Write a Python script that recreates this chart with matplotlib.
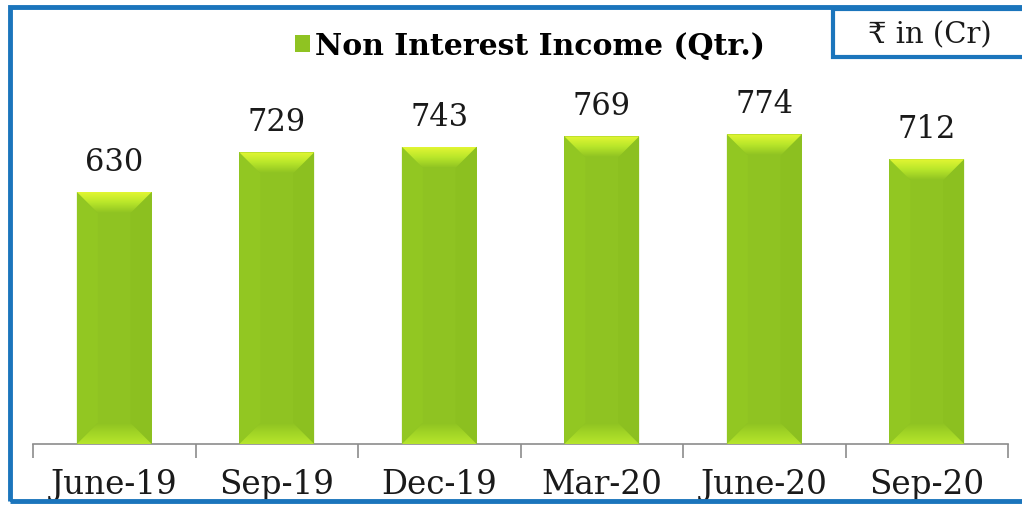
import matplotlib
matplotlib.use("Agg")
import matplotlib.pyplot as plt
from matplotlib.patches import Rectangle, Polygon
from matplotlib.colors import LinearSegmentedColormap
import numpy as np

categories = ["June-19", "Sep-19", "Dec-19", "Mar-20", "June-20", "Sep-20"]
values = [630, 729, 743, 769, 774, 712]
legend_label = "Non Interest Income (Qtr.)"
unit_label = "\u20b9 in (Cr)"

W, H = 1022, 510
fig = plt.figure(figsize=(W / 100, H / 100), dpi=100)
fig.patch.set_facecolor("white")

ax = fig.add_axes([33 / W, 1 - 445 / H, (1008 - 33) / W, (445 - 45) / H])
XLIM = (-0.5, len(categories) - 0.5)
YLIM = (0, 1000)
ax.set_xlim(*XLIM)
ax.set_ylim(*YLIM)

x = np.arange(len(categories))
main = "#8fc322"
bars = ax.bar(x, values, width=0.46, color=main, edgecolor="none", zorder=2)

top_cmap = LinearSegmentedColormap.from_list("top", [main, "#b8e62a", "#e2f633"])
bot_cmap = LinearSegmentedColormap.from_list("bot", ["#b6e52c", "#a3d626", main])
grad = np.linspace(0, 1, 64).reshape(-1, 1)

px_per_x = 975 / 6.0
px_per_y = 400 / 1000.0
bpx = 21
dx = bpx / px_per_x
dy = bpx / px_per_y

for b in bars:
    x0, y0 = b.get_x(), b.get_y()
    w, h = b.get_width(), b.get_height()
    ax.add_patch(Polygon([(x0, y0), (x0 + dx, y0 + dy), (x0 + dx, y0 + h - dy), (x0, y0 + h)],
                         closed=True, facecolor="#92c722", edgecolor="none", zorder=3))
    ax.add_patch(Polygon([(x0 + w, y0), (x0 + w - dx, y0 + dy), (x0 + w - dx, y0 + h - dy), (x0 + w, y0 + h)],
                         closed=True, facecolor="#8cc020", edgecolor="none", zorder=3))
    top = Polygon([(x0, y0 + h), (x0 + dx, y0 + h - dy), (x0 + w - dx, y0 + h - dy), (x0 + w, y0 + h)],
                  closed=True, facecolor="none", edgecolor="none", zorder=3)
    ax.add_patch(top)
    im = ax.imshow(grad, cmap=top_cmap, extent=(x0, x0 + w, y0 + h - dy, y0 + h), origin="lower",
                   aspect="auto", zorder=3, interpolation="bilinear")
    im.set_clip_path(top)
    bot = Polygon([(x0, y0), (x0 + dx, y0 + dy), (x0 + w - dx, y0 + dy), (x0 + w, y0)],
                  closed=True, facecolor="none", edgecolor="none", zorder=3)
    ax.add_patch(bot)
    im2 = ax.imshow(grad, cmap=bot_cmap, extent=(x0, x0 + w, y0, y0 + dy), origin="lower",
                    aspect="auto", zorder=3, interpolation="bilinear")
    im2.set_clip_path(bot)
    ax.text(x0 + w / 2, y0 + h + 38, f"{int(h)}", ha="center", va="bottom",
            fontsize=22, family="DejaVu Serif", color="#1a1a1a", zorder=4)

ax.set_xlim(*XLIM)
ax.set_ylim(*YLIM)

for s in ["top", "right", "left"]:
    ax.spines[s].set_visible(False)
ax.spines["bottom"].set_color("#8c8c8c")
ax.spines["bottom"].set_linewidth(1.2)
ax.set_yticks([])
ax.set_xticks(np.arange(-0.5, len(categories), 1.0))
ax.set_xticklabels([])
ax.set_xticks(x, minor=True)
ax.set_xticklabels(categories, minor=True, fontsize=23.5, family="DejaVu Serif", color="#1a1a1a")
ax.tick_params(axis="x", which="major", length=10, color="#8c8c8c", width=1.2)
ax.tick_params(axis="x", which="minor", length=0, pad=17)

# legend
leg = fig.legend(handles=[bars], labels=[legend_label], loc="center",
                 bbox_to_anchor=(530 / W, 1 - 47 / H), frameon=False,
                 handlelength=0.5, handleheight=0.5, handletextpad=0.15,
                 prop={"family": "DejaVu Serif", "weight": "bold", "size": 21.5})

# outer blue frame
fig.patches.append(Rectangle((10 / W, 1 - 502 / H), 1.2, (502 - 8) / H, transform=fig.transFigure,
                             fill=False, edgecolor="#1b75bc", linewidth=3.5, zorder=10))
# unit box
fig.patches.append(Rectangle((833 / W, 1 - 58 / H), 0.3, (58 - 10) / H, transform=fig.transFigure,
                             facecolor="white", edgecolor="#1b75bc", linewidth=3, zorder=11))
fig.text(930 / W, 1 - 35 / H, unit_label, ha="center", va="center", fontsize=21,
         family=["DejaVu Serif", "Noto Sans", "DejaVu Sans"], color="#1a1a1a", zorder=12)

fig.savefig("out.png", dpi=100, facecolor="white")
